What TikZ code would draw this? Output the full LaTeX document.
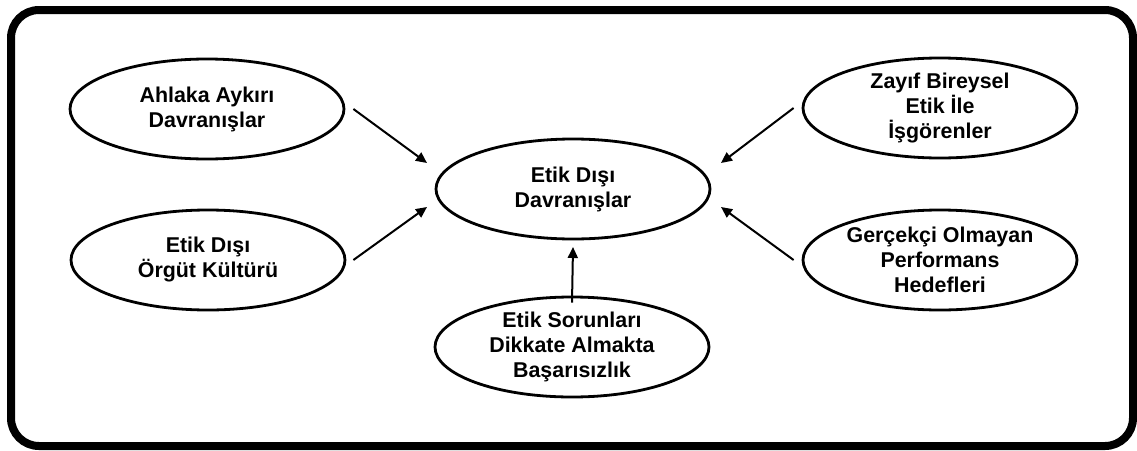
\documentclass[tikz,border=0pt]{standalone}
\usepackage{fontspec}
\setmainfont{Liberation Sans}
\usetikzlibrary{shapes.geometric,arrows.meta}
\begin{document}
\begin{tikzpicture}[x=1pt,y=-1pt,
  oval/.style={ellipse,draw=black,line width=2.8pt,minimum width=274pt,minimum height=100pt,
    inner sep=0pt,align=center,font=\fontsize{21.4}{25}\selectfont\bfseries},
  link/.style={line width=2pt,-{Triangle[length=11pt,width=10pt]}}]
\useasboundingbox (0,0) rectangle (1137,450);
% outer frame
\draw[line width=8pt,rounded corners=28pt] (11,10) rectangle (1133,446);

% ellipses
\node[oval] (ahlak) at (207,109) {Ahlaka Aykırı\\Davranışlar};
\node[oval] (kultur) at (208,260) {Etik Dışı\\Örgüt Kültürü};
\node[oval] (merkez) at (573,189) {Etik Dışı\\Davranışlar};
\node[oval] (zayif) at (940,108) {Zayıf Bireysel\\Etik İle\\İşgörenler};
\node[oval] (hedef) at (940,260) {Gerçekçi Olmayan\\Performans\\Hedefleri};
\node[oval] (sorun) at (572,347) {Etik Sorunları\\Dikkate Almakta\\Başarısızlık};

% arrow ends
\coordinate (ahlakS) at ([xshift=8pt]ahlak.east);
\coordinate (kulturS) at ([xshift=7pt]kultur.east);
\coordinate (zayifS) at ([xshift=-8pt]zayif.west);
\coordinate (hedefS) at ([xshift=-8pt]hedef.west);
\coordinate (sorunS) at ([yshift=-7pt]sorun.north);
\coordinate (tipA) at (427,163);
\coordinate (tipB) at (427,207);
\coordinate (tipC) at (721,163);
\coordinate (tipD) at (721,207);
\coordinate (tipE) at (573,247);

% connectors
\draw[link] (ahlakS) -- (tipA);
\draw[link] (kulturS) -- (tipB);
\draw[link] (zayifS) -- (tipC);
\draw[link] (hedefS) -- (tipD);
\draw[link] (sorunS) -- (tipE);
\end{tikzpicture}
\end{document}
